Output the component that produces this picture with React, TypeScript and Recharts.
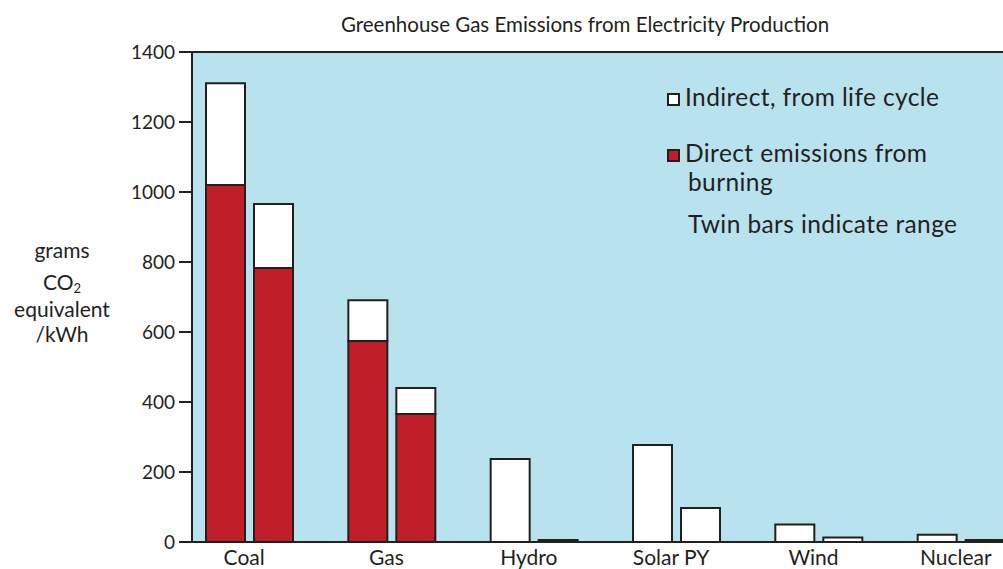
import React from 'react'
import {
  BarChart,
  Bar,
  XAxis,
  YAxis,
  CartesianGrid,
  ReferenceLine,
} from 'recharts'

const categories = ['Coal', 'Gas', 'Hydro', 'Solar PY', 'Wind', 'Nuclear']
// twin bars: "high" end and "low" end of the range
const directHigh = [1020, 574, 0, 0, 0, 0]
const indirectHigh = [291, 117, 237, 277, 50, 21]
const directLow = [783, 366, 0, 0, 0, 0]
const indirectLow = [183, 74, 6, 97, 13, 6]
const yTicks = [0, 200, 400, 600, 800, 1000, 1200, 1400]

const data = categories.map((name, i) => ({
  name,
  directHigh: directHigh[i],
  indirectHigh: indirectHigh[i],
  directLow: directLow[i],
  indirectLow: indirectLow[i],
}))

const INK = '#231f20'
const RED = '#c01f27'
const BLUE = '#b8e2ee'
const FONT = 'Lato, "Open Sans", sans-serif'

function Swatch({ color }: { color: string }) {
  return (
    <span
      style={{
        display: 'inline-block',
        width: 9,
        height: 9,
        background: color,
        border: `2px solid ${INK}`,
        marginRight: 5,
        verticalAlign: 'middle',
      }}
    />
  )
}

function YLabelLine({ y, children }: { y: number; children: React.ReactNode }) {
  return (
    <div
      style={{
        position: 'absolute',
        left: 0,
        width: 124,
        top: y - 11,
        height: 22,
        lineHeight: '22px',
        textAlign: 'center',
        fontSize: 21,
      }}
    >
      {children}
    </div>
  )
}

function LegendLine({ y, swatch, children }: { y: number; swatch?: string; children: React.ReactNode }) {
  return (
    <div
      style={{
        position: 'absolute',
        left: swatch ? 667 : 688,
        top: y - 14,
        height: 28,
        lineHeight: '28px',
        fontSize: 24.5,
        letterSpacing: 0.4,
        whiteSpace: 'nowrap',
      }}
    >
      {swatch && <Swatch color={swatch} />}
      {children}
    </div>
  )
}

export default function App() {
  return (
    <div
      style={{
        position: 'absolute',
        left: 0,
        top: 0,
        width: 1003,
        height: 569,
        overflow: 'hidden',
        background: '#fff',
        fontFamily: FONT,
        color: INK,
      }}
    >
      <BarChart
        width={1040}
        height={569}
        data={data}
        margin={{ top: 52, right: 8, left: 0, bottom: 0 }}
        barSize={39}
        barGap={9}
      >
        <CartesianGrid fill={BLUE} horizontal={false} vertical={false} />
        <XAxis
          dataKey="name"
          padding={{ left: -14, right: 0 }}
          height={27}
          tickLine={false}
          axisLine={{ stroke: INK, strokeWidth: 2 }}
          tickMargin={2}
          tick={{ fontSize: 21, fill: INK, fontFamily: FONT, dx: -5 }}
          interval={0}
        />
        <YAxis
          width={192}
          domain={[0, 1400]}
          ticks={yTicks}
          tickSize={13}
          tickMargin={4}
          axisLine={{ stroke: INK, strokeWidth: 2 }}
          tickLine={{ stroke: INK, strokeWidth: 2 }}
          tick={{ fontSize: 19, fill: INK, fontFamily: FONT }}
        />
        <ReferenceLine y={1400} stroke={INK} strokeWidth={2} />
        <Bar dataKey="directHigh" stackId="high" fill={RED} stroke={INK} strokeWidth={2} isAnimationActive={false} />
        <Bar dataKey="indirectHigh" stackId="high" fill="#fff" stroke={INK} strokeWidth={2} isAnimationActive={false} />
        <Bar dataKey="directLow" stackId="low" fill={RED} stroke={INK} strokeWidth={2} isAnimationActive={false} />
        <Bar dataKey="indirectLow" stackId="low" fill="#fff" stroke={INK} strokeWidth={2} isAnimationActive={false} />
      </BarChart>

      <div
        style={{
          position: 'absolute',
          left: 285,
          width: 600,
          top: 12,
          textAlign: 'center',
          fontSize: 20.5,
        }}
      >
        Greenhouse Gas Emissions from Electricity Production
      </div>

      <YLabelLine y={250}>grams</YLabelLine>
      <YLabelLine y={282}>
        CO<span style={{ fontSize: 13, position: 'relative', top: 3 }}>2</span>
      </YLabelLine>
      <YLabelLine y={309}>equivalent</YLabelLine>
      <YLabelLine y={334}>/kWh</YLabelLine>

      <LegendLine y={97} swatch="#fff">Indirect, from life cycle</LegendLine>
      <LegendLine y={153} swatch={RED}>Direct emissions from</LegendLine>
      <LegendLine y={182}>burning</LegendLine>
      <LegendLine y={224}>Twin bars indicate range</LegendLine>
    </div>
  )
}
